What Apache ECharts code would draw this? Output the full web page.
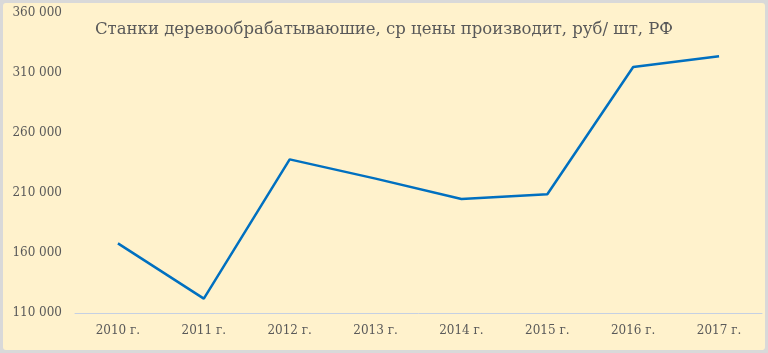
<!DOCTYPE html>
<html><head><meta charset="utf-8">
<script src="https://cdn.jsdelivr.net/npm/echarts@6/dist/echarts.min.js"></script>
<style>
html,body{margin:0;padding:0;background:#d9d9d9;width:768px;height:353px;overflow:hidden}
#c{position:absolute;left:3px;top:3px;width:762px;height:347px;background:#fff2cc;border-radius:3px}
</style></head><body><div id="c"></div>
<script>
var categories = ['2010 г.','2011 г.','2012 г.','2013 г.','2014 г.','2015 г.','2016 г.','2017 г.'];
var prices = [168000,122000,238000,222000,205000,209000,315000,324000];
var yMin = 110000, yMax = 360000, yStep = 50000;
var titleText = 'Станки деревообрабатываюшие, ср цены производит, руб/ шт, РФ';

var chart = echarts.init(document.getElementById('c'));
var serif = '"DejaVu Serif", "Liberation Serif", serif';
chart.setOption({
  backgroundColor: 'transparent',
  title: {text: titleText, left: 87, top: 13,
    textStyle: {fontFamily: serif, fontSize: 16.5, fontWeight: 'normal', color: '#595959'}},
  grid: {left: 72, right: 3, top: 10, bottom: 37},
  xAxis: {type: 'category', data: categories, boundaryGap: true,
    axisLine: {lineStyle: {color: '#c5d0e3', width: 1}},
    axisTick: {show: false},
    axisLabel: {fontFamily: serif, fontSize: 12, color: '#595959', margin: 12}},
  yAxis: {type: 'value', min: yMin, max: yMax, interval: yStep,
    axisLine: {show: false}, axisTick: {show: false}, splitLine: {show: false},
    axisLabel: {fontFamily: serif, fontSize: 12, color: '#595959', margin: 13,
      formatter: function(v){ return String(v).replace(/\B(?=(\d{3})+(?!\d))/g, ' '); }}},
  series: [{type: 'line', data: prices, showSymbol: false, symbol: 'none',
    lineStyle: {color: '#0070c0', width: 2.5}, itemStyle: {color: '#0070c0'}}]
});
</script></body></html>
